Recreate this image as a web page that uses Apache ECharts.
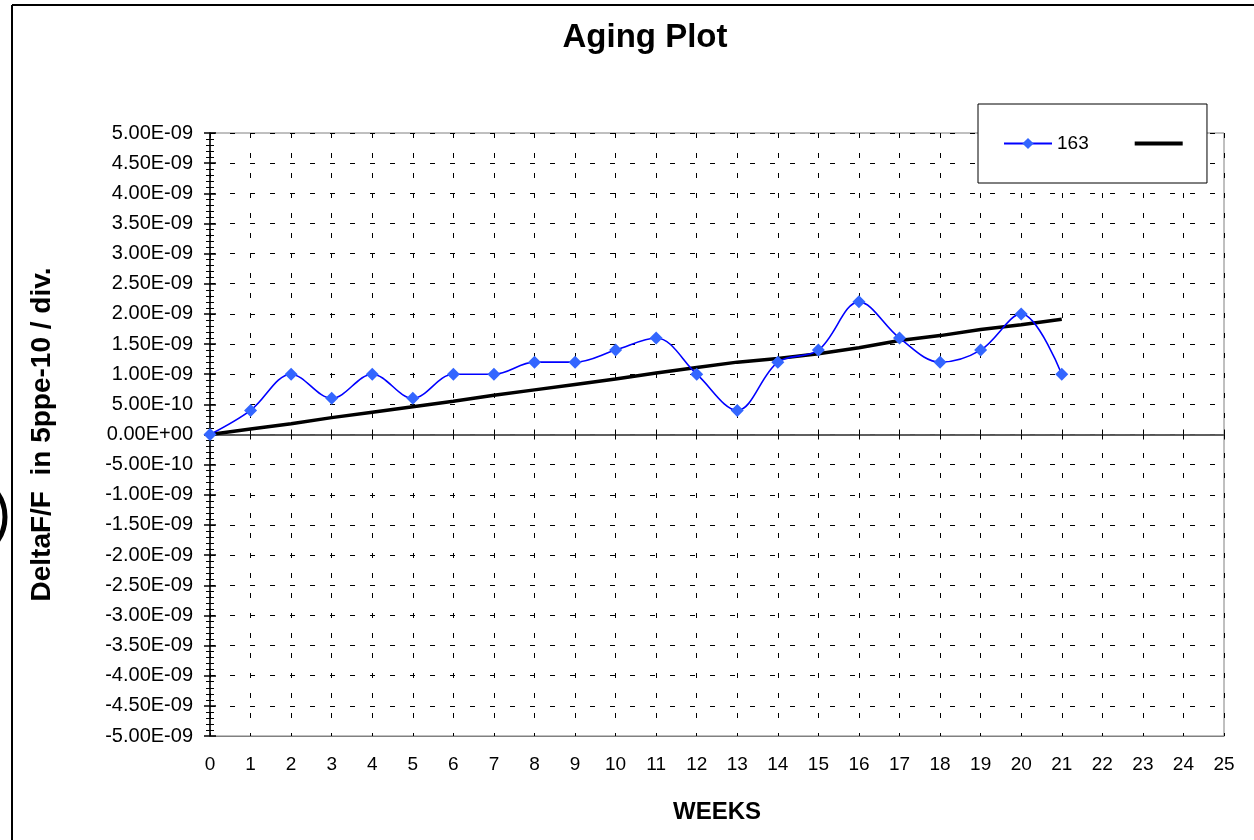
<!DOCTYPE html>
<html>
<head>
<meta charset="utf-8">
<title>Aging Plot</title>
<script src="https://cdn.jsdelivr.net/npm/echarts@6/dist/echarts.min.js"></script>
<style>
  html, body { margin: 0; padding: 0; background: #fff; }
  #chart { width: 1254px; height: 840px; }
</style>
</head>
<body>
<div id="chart"></div>
<script>
  // weeks 0..21
  const weeks = [0, 1, 2, 3, 4, 5, 6, 7, 8, 9, 10, 11, 12, 13, 14, 15, 16, 17, 18, 19, 20, 21];
  // unit 163, DeltaF/F
  const unit163 = [0, 4e-10, 1.0e-9, 6e-10, 1.0e-9, 6e-10, 1.0e-9, 1.0e-9, 1.2e-9, 1.2e-9, 1.4e-9,
    1.6e-9, 1.0e-9, 4e-10, 1.2e-9, 1.4e-9, 2.2e-9, 1.6e-9, 1.2e-9, 1.4e-9, 2.0e-9, 1.0e-9];
  // black trend line
  const trend = [0, 0.09e-9, 0.18e-9, 0.28e-9, 0.37e-9, 0.46e-9, 0.55e-9, 0.65e-9, 0.74e-9, 0.83e-9, 0.92e-9,
    1.02e-9, 1.11e-9, 1.20e-9, 1.26e-9, 1.34e-9, 1.44e-9, 1.56e-9, 1.64e-9, 1.74e-9, 1.82e-9, 1.91e-9];

  const yMin = -5e-9, yMax = 5e-9, yStep = 5e-10;
  const xMin = 0, xMax = 25;

  // excel style 0.00E+00
  function sciLabel(v) {
    if (Math.abs(v) < 1e-15) return '0.00E+00';
    const parts = v.toExponential(2).split('e');
    let exp = parts[1].slice(1);
    if (exp.length < 2) exp = '0' + exp;
    return parts[0] + 'E' + parts[1][0] + exp;
  }

  const font = 'Arial, "Liberation Sans", sans-serif';
  const gridDash = { color: '#000', width: 1, type: [5, 15] };
  const chart = echarts.init(document.getElementById('chart'));

  // extra axes only draw the ticks on the other side (cross ticks)
  const zeroAxis = (pos) => ({
    type: 'value',
    min: xMin,
    max: xMax,
    interval: 1,
    position: pos,
    axisLine: { show: true, onZero: true, onZeroAxisIndex: 0, lineStyle: { color: '#555', width: 1.5 } },
    axisTick: { show: true, length: 5, lineStyle: { color: '#000' } },
    axisLabel: { show: false },
    splitLine: { show: false },
  });

  const option = {
    backgroundColor: '#fff',
    animation: false,
    title: {
      text: 'Aging Plot',
      left: 640,
      textAlign: 'center',
      top: 16,
      textStyle: { fontFamily: font, fontSize: 33, fontWeight: 'bold', color: '#000' },
    },
    legend: {
      data: [
        { name: '163' },
        { name: ' ', icon: 'path://M0,0L50,0L50,4L0,4Z' },
      ],
      left: 978,
      top: 104,
      orient: 'horizontal',
      padding: [30, 14, 30, 25],
      itemGap: 46,
      itemWidth: 48,
      itemHeight: 14,
      backgroundColor: '#fff',
      borderColor: '#000',
      borderWidth: 1,
      borderRadius: 0,
      textStyle: { fontFamily: font, fontSize: 19, color: '#000' },
    },
    grid: {
      left: 210,
      right: 30,
      top: 133,
      bottom: 104,
      show: true,
      borderColor: '#808080',
      borderWidth: 1,
      containLabel: false,
    },
    xAxis: [
      {
        type: 'value',
        min: xMin,
        max: xMax,
        interval: 1,
        position: 'bottom',
        axisLine: { onZero: false, lineStyle: { color: '#808080', width: 1 } },
        axisTick: { show: false },
        axisLabel: { margin: 19, fontFamily: font, fontSize: 19, color: '#000' },
        splitLine: { show: true, lineStyle: gridDash },
        name: 'WEEKS',
        nameLocation: 'middle',
        nameGap: 64,
        nameTextStyle: { fontFamily: font, fontSize: 24, fontWeight: 'bold', color: '#000' },
      },
      zeroAxis('top'),
      zeroAxis('bottom'),
    ],
    yAxis: [
      {
        type: 'value',
        min: yMin,
        max: yMax,
        interval: yStep,
        axisLine: { show: true, onZero: false, lineStyle: { color: '#000', width: 1.5 } },
        axisTick: { show: true, length: 6, lineStyle: { color: '#000', width: 1.5 } },
        minorTick: { show: true, splitNumber: 5, length: 4, lineStyle: { color: '#000' } },
        axisLabel: { margin: 17, fontFamily: font, fontSize: 20, color: '#000', formatter: sciLabel },
        splitLine: { show: true, lineStyle: gridDash },
        name: 'DeltaF/F  in 5ppe-10 / div.',
        nameLocation: 'middle',
        nameRotate: 90,
        nameGap: 154,
        nameTextStyle: { fontFamily: font, fontSize: 28, fontWeight: 'bold', color: '#000' },
      },
      {
        type: 'value',
        min: yMin,
        max: yMax,
        interval: yStep,
        position: 'left',
        axisLine: { show: false, onZero: false },
        axisTick: { show: true, inside: true, length: 6, lineStyle: { color: '#000', width: 1.5 } },
        minorTick: { show: true, splitNumber: 5, length: 4, lineStyle: { color: '#000' } },
        axisLabel: { show: false },
        splitLine: { show: false },
      },
    ],
    graphic: [
      { type: 'line', shape: { x1: 12, y1: 5, x2: 12, y2: 840 }, style: { stroke: '#000', lineWidth: 2 } },
      { type: 'line', shape: { x1: 12, y1: 5, x2: 1254, y2: 5 }, style: { stroke: '#000', lineWidth: 2 } },
      { type: 'circle', shape: { cx: -37, cy: 517, r: 42 }, style: { fill: 'none', stroke: '#000', lineWidth: 5 } },
    ],
    series: [
      {
        name: ' ',
        type: 'line',
        z: 2,
        data: weeks.map((w, i) => [w, trend[i]]),
        symbol: 'none',
        lineStyle: { color: '#000', width: 3.5 },
        itemStyle: { color: '#000' },
      },
      {
        name: '163',
        type: 'line',
        z: 3,
        smooth: 0.35,
        data: weeks.map((w, i) => [w, unit163[i]]),
        symbol: 'diamond',
        symbolSize: 13,
        lineStyle: { color: '#0000FF', width: 1.6 },
        itemStyle: { color: '#3366FF' },
      },
    ],
  };

  chart.setOption(option);
</script>
</body>
</html>
